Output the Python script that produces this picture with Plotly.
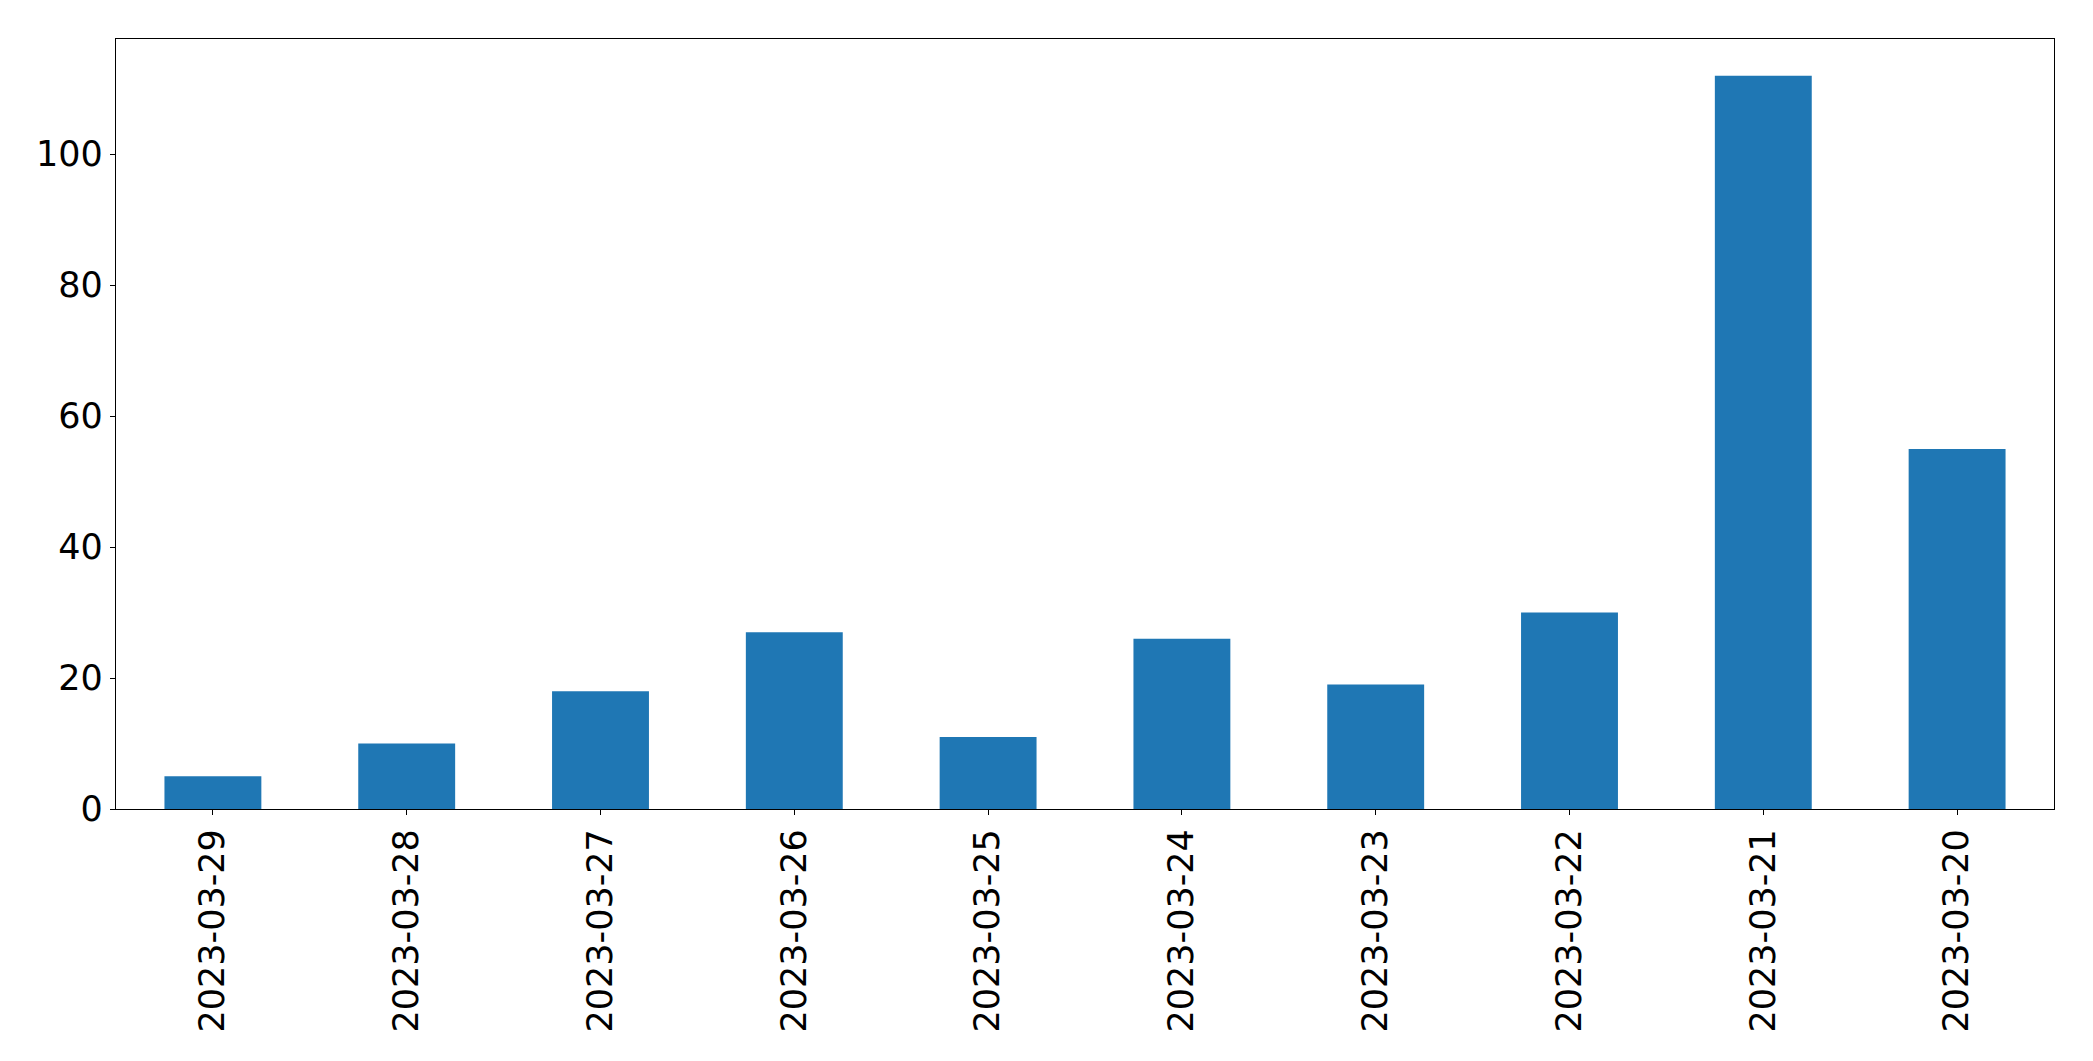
import plotly.graph_objects as go

dates = ["2023-03-29", "2023-03-28", "2023-03-27", "2023-03-26", "2023-03-25",
         "2023-03-24", "2023-03-23", "2023-03-22", "2023-03-21", "2023-03-20"]
counts = [5, 10, 18, 27, 11, 26, 19, 30, 112, 55]

fig = go.Figure(go.Bar(x=dates, y=counts, width=0.5, marker_color="#1f77b4",
                       marker_line_width=0))

axis_common = dict(showline=True, linecolor="black", linewidth=1.3, mirror=True,
                   ticks="outside", ticklen=5, tickwidth=1.3, tickcolor="black",
                   showgrid=False, zeroline=False,
                   tickfont=dict(family="DejaVu Sans", size=35, color="black"))

fig.update_layout(
    width=2093, height=1061,
    margin=dict(l=116, r=39, t=39, b=252),
    paper_bgcolor="white", plot_bgcolor="white",
    showlegend=False,
    xaxis=dict(type="category", tickangle=-90, range=[-0.5, 9.5], **axis_common),
    yaxis=dict(range=[0, 117.6], tickvals=[0, 20, 40, 60, 80, 100], **axis_common),
)

fig.write_html("out.html")
